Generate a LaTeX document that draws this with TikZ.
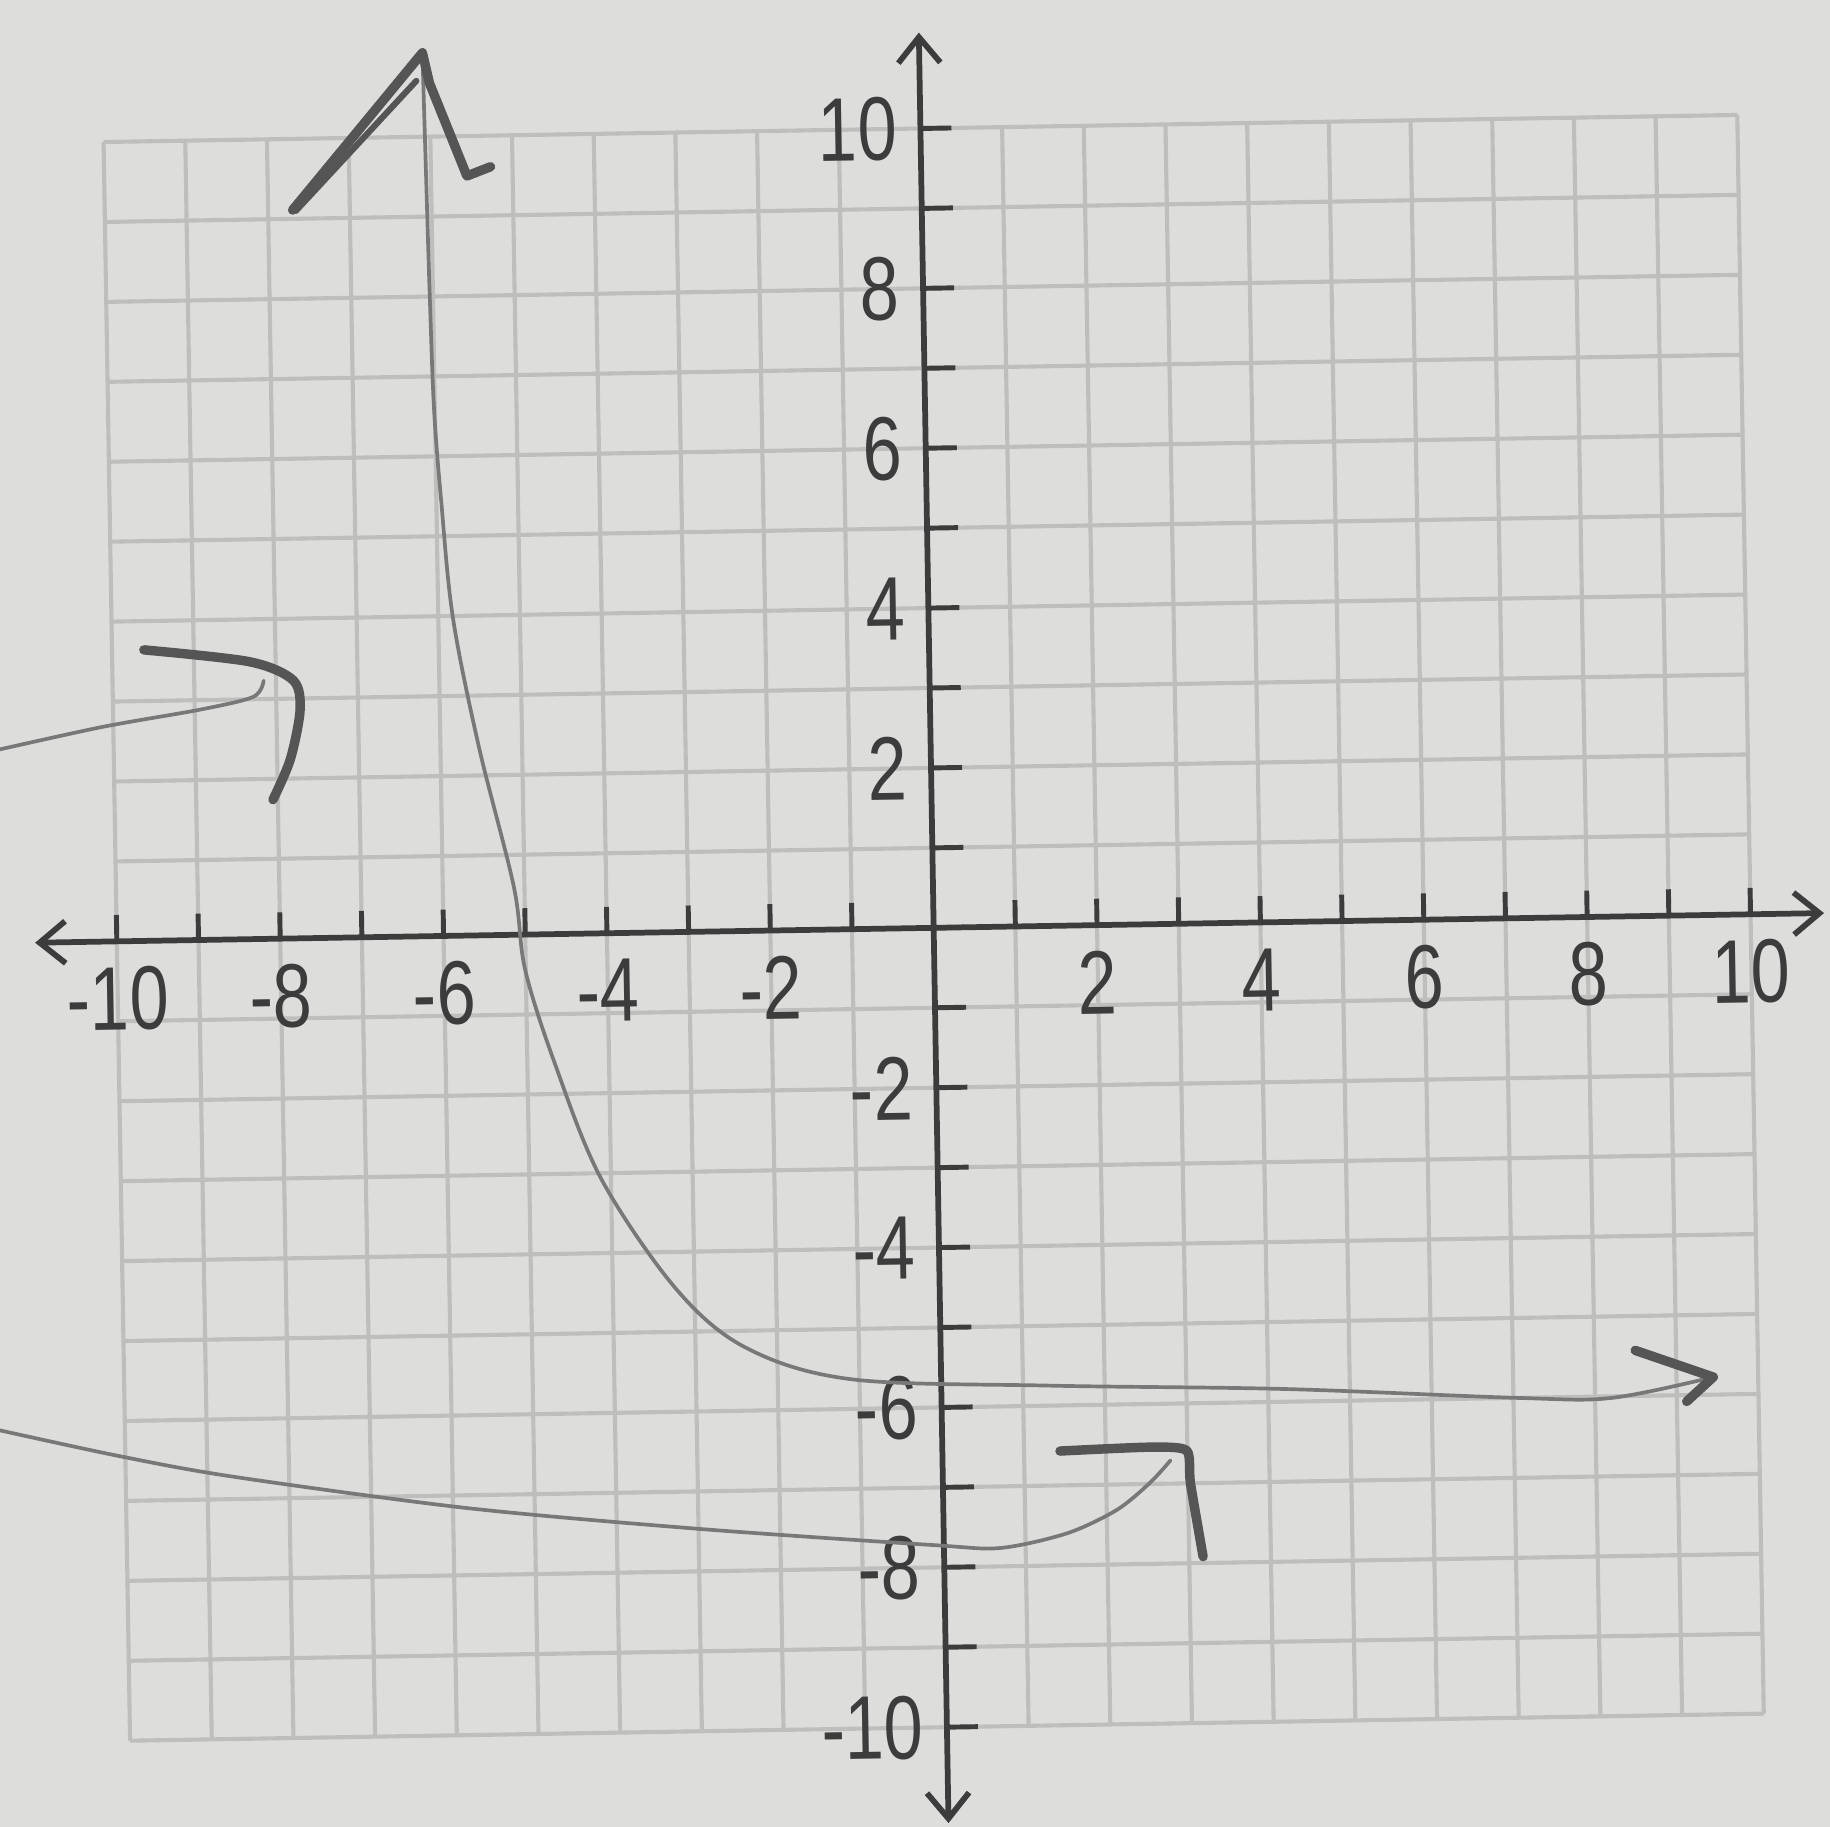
\documentclass[tikz,border=0pt]{standalone}
\usepackage{fontspec}
\newfontfamily\digitfont[FakeStretch=0.78]{Liberation Sans}
\usetikzlibrary{arrows.meta}
\definecolor{paper}{RGB}{221,221,219}
\definecolor{gridgray}{RGB}{190,190,188}
\definecolor{axisgray}{RGB}{60,60,60}
\definecolor{curvegray}{RGB}{120,120,120}
\definecolor{hookgray}{RGB}{85,85,85}

\begin{document}
\begin{tikzpicture}[>={Straight Barb[length=2.2mm,width=3.6mm]}]
\tikzset{every node/.style={text=axisgray,font=\digitfont\fontsize{22}{22}\selectfont,inner sep=0pt,transform shape}}
\tikzset{curve/.style={curvegray,line width=0.9pt,line cap=round,line join=round}}
\tikzset{hook/.style={hookgray,line width=2.3pt,line cap=round,line join=round}}

\fill[paper] (-8.00,-7.70) rectangle (7.68,7.95);
\useasboundingbox (-8.00,-7.70) rectangle (7.68,7.95);

\begin{scope}[x=0.7cm,y=0.685cm,rotate=0.95]
\foreach \k in {-10,...,10} {
  \draw[gridgray,line width=1pt] (\k,-10) -- (\k,10);
  \draw[gridgray,line width=1pt] (-10,\k) -- (10,\k);
}

\coordinate (xmin) at (-11,0);
\coordinate (xmax) at (10.9,0);
\coordinate (ymin) at (0,-11.2);
\coordinate (ymax) at (0,11.2);
\draw[axisgray,line width=1.4pt,<->] (xmin) -- (xmax);
\draw[axisgray,line width=1.4pt,<->] (ymin) -- (ymax);
\foreach \k in {-10,...,10} {
  \draw[axisgray,line width=1.2pt] (\k,0) -- (\k,0.33);
  \draw[axisgray,line width=1.2pt] (0,\k) -- (0.38,\k);
}

\foreach \k in {-10,-8,-6,-4,-2,2,4,6,8,10}
  \node (xl\k) at (\k,-0.72) {\k};
\foreach \k in {-10,-8,-6,-4,-2,2,4,6,8,10}
  \node[anchor=east] (yl\k) at (-0.28,\k) {\k};

\draw[curve] plot[smooth,tension=0.55] coordinates {(-6.08,11.05) (-6.06,9.52)
  (-6.04,8.06) (-6.01,6.60) (-5.94,5.43) (-5.82,3.97) (-5.53,2.36) (-5.13,0.60)
  (-5.01,-0.43) (-4.67,-1.60) (-4.12,-3.07) (-3.22,-4.47) (-2.37,-5.22)
  (-1.09,-5.63) (1.34,-5.75) (4.19,-5.84) (7.05,-6.0) (8.2,-6.02) (9.45,-5.78)};
\draw[hook] (-7.70,9.11) -- (-6.08,11.05) -- (-6.0,10.67) -- (-5.56,9.50) -- (-5.27,9.61);
\draw[hook,line width=1.5pt] (-7.66,9.10) -- (-6.16,10.70);
\draw[hook] (8.50,-5.43) -- (9.45,-5.78) -- (9.12,-6.08);

\draw[curve] plot[smooth] coordinates {(-11.7,2.36) (-10.16,2.68) (-8.94,2.88)
  (-8.28,3.03) (-8.15,3.23)};
\draw[hook] plot[smooth,tension=0.5] coordinates {(-9.61,3.64) (-8.32,3.47)
  (-7.79,3.23) (-7.71,2.86) (-7.84,2.24) (-8.06,1.74)};

\draw[curve] plot[smooth] coordinates {(-11.7,-6.05) (-10.11,-6.43) (-8.68,-6.72)
  (-5.83,-7.16) (-2.98,-7.47) (-0.125,-7.72) (0.69,-7.77) (1.51,-7.60)
  (2.12,-7.32) (2.53,-6.99) (2.79,-6.71)};
\draw[hook] plot[smooth,tension=0.4] coordinates {(1.44,-6.57) (2.54,-6.54)
  (2.99,-6.59) (3.03,-7.0) (3.17,-7.92)};
\end{scope}
\end{tikzpicture}
\end{document}
